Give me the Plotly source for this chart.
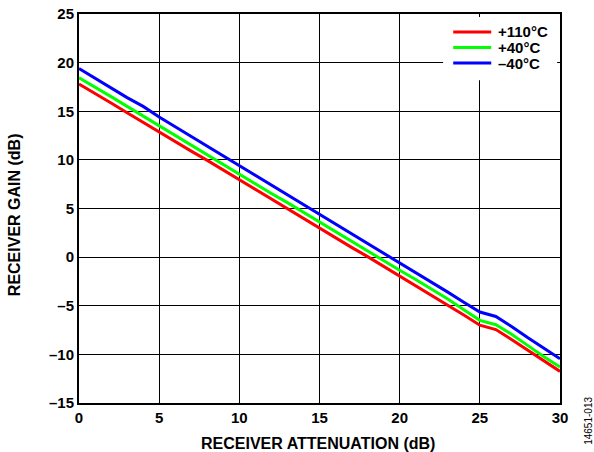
import plotly.graph_objects as go

atten = list(range(0, 31))
gain_110 = [17.8, 16.85, 15.85, 14.85, 13.85, 12.9, 11.9, 10.9, 9.95, 8.95,
            7.95, 6.95, 5.95, 4.95, 3.95, 3.0, 2.0, 1.0, 0.05, -0.95,
            -1.95, -2.9, -3.9, -4.9, -5.95, -7.0, -7.45, -8.5, -9.6, -10.7, -11.75]
gain_40 = [18.45, 17.5, 16.5, 15.5, 14.5, 13.5, 12.55, 11.55, 10.55, 9.55,
           8.55, 7.55, 6.55, 5.6, 4.6, 3.6, 2.6, 1.6, 0.65, -0.35,
           -1.35, -2.3, -3.3, -4.3, -5.4, -6.5, -6.95, -7.95, -9.1, -10.25, -11.3]
gain_m40 = [19.4, 18.4, 17.4, 16.4, 15.5, 14.4, 13.4, 12.4, 11.4, 10.45,
            9.4, 8.4, 7.4, 6.45, 5.45, 4.4, 3.4, 2.4, 1.4, 0.4,
            -0.6, -1.6, -2.6, -3.6, -4.65, -5.65, -6.1, -7.15, -8.3, -9.4, -10.45]

series_names = ["+110°C", "+40°C", "–40°C"]
series_values = [gain_110, gain_40, gain_m40]
series_colors = ["#ff0000", "#00ff00", "#0000ff"]

x_ticks = [0, 5, 10, 15, 20, 25, 30]
y_ticks = [-15, -10, -5, 0, 5, 10, 15, 20, 25]
y_ticktext = [("–" + str(-v)) if v < 0 else str(v) for v in y_ticks]

fam = "Liberation Sans, Arial, sans-serif"

fig = go.Figure()
for name, vals, col in zip(series_names, series_values, series_colors):
    fig.add_trace(go.Scatter(x=atten, y=vals, mode="lines", name=name,
                             line=dict(color=col, width=3), showlegend=False))

fig.update_layout(
    width=594, height=452,
    margin=dict(l=79, r=34, t=14, b=49),
    paper_bgcolor="white", plot_bgcolor="white",
    font=dict(family=fam, size=15, color="black"),
    showlegend=False,
)
fig.update_xaxes(range=[0, 30], tickvals=x_ticks, ticktext=[str(v) for v in x_ticks],
                 showgrid=True, gridcolor="black", gridwidth=1,
                 showline=True, linecolor="black", linewidth=2, mirror=True,
                 ticks="", zeroline=False, automargin=False, ticklabeloverflow="allow",
                 tickfont=dict(family=fam, size=15, weight="bold"))
fig.update_yaxes(range=[-15, 25], tickvals=y_ticks, ticktext=y_ticktext,
                 showgrid=True, gridcolor="black", gridwidth=1,
                 showline=True, linecolor="black", linewidth=2, mirror=True,
                 ticks="", zeroline=False, automargin=False, ticklabeloverflow="allow",
                 tickfont=dict(family=fam, size=15, weight="bold"))

# axis titles
fig.add_annotation(text="RECEIVER ATTENUATION (dB)", xref="paper", yref="paper",
                   x=0.497, y=-0.103, xanchor="center", yanchor="middle", showarrow=False,
                   font=dict(family=fam, size=16, weight="bold", color="black"))
fig.add_annotation(text="RECEIVER GAIN (dB)", xref="paper", yref="paper",
                   x=-0.135, y=0.483, xanchor="center", yanchor="middle", textangle=-90,
                   showarrow=False, font=dict(family=fam, size=16, weight="bold", color="black"))

# legend box (manual, compact spacing as in reference)
fig.add_shape(type="rect", xref="paper", yref="paper", x0=0.757, x1=0.994, y0=0.830, y1=0.992,
              fillcolor="white", line=dict(width=0), layer="above")
leg_y = [0.954, 0.914, 0.874]
for name, col, yy in zip(series_names, series_colors, leg_y):
    fig.add_shape(type="line", xref="paper", yref="paper", x0=0.778, x1=0.857, y0=yy, y1=yy,
                  line=dict(color=col, width=3), layer="above")
    fig.add_annotation(text=name, xref="paper", yref="paper", x=0.866, y=yy,
                       xanchor="left", yanchor="middle", showarrow=False,
                       font=dict(family=fam, size=15, weight="bold", color="black"))

fig.add_annotation(text="14651-013", xref="paper", yref="paper", x=1.060, y=-0.113,
                   xanchor="center", yanchor="bottom", textangle=-90, showarrow=False,
                   font=dict(family=fam, size=10, color="black"))
fig.write_html("out.html", config={"displayModeBar": False},
               post_script="document.body.style.margin='0';document.body.style.overflow='hidden';")
